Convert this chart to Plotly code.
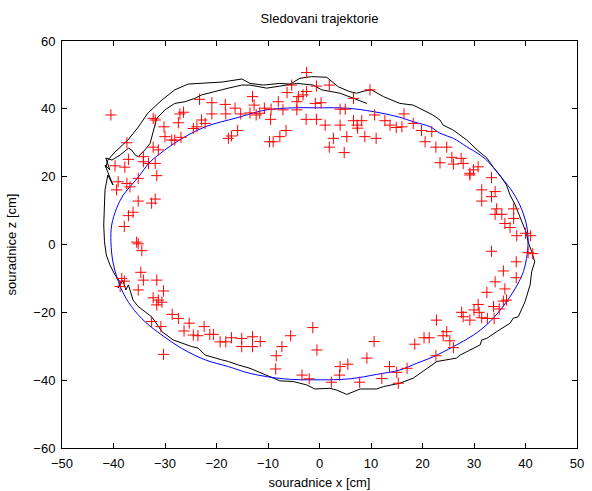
import plotly.graph_objects as go

# Red crosses: measured points (x, z) [cm]
meas_x = [-40.5,-23.3,-20.9,-18.3,-16.4,-18.2,-15.3,-13.5,-26.4,-27.1,-20.9,-32.3,-31.9,-27.4,-22.9,-22.2,-23.8,-24.5,-30.2,-30,-28.7,-28.1,-26.9,-17.1,-15.9,-17.7,-37.4,-32.3,-31.3,-37.1,-34.2,-34.2,-33.2,-31.9,-37.8,-39.7,
          -2.5,-5.4,-6.3,-0.6,1.9,-2.5,9.8,-4.1,-3.2,-13,-12.7,-8,-4.4,-0.8,0.3,6.6,-10.7,-9.4,-7.1,-4.4,4,5,-11.6,-12.3,-9.5,-2.6,-0.6,6.6,8.2,10.7,12.7,7.3,1.1,4,13.7,14.9,7.4,-6.5,-7.7,2.7,5.3,8.8,11,-9.7,-9,1.9,4.8,
          16.4,16,18.2,19.8,21.8,20.5,22.6,24.7,25.7,27.5,23.4,26,27.9,30.8,29.9,29.2,
          -39.1,-37.4,-36.8,-39.4,-35.2,-31.6,-35.2,-31.9,-32.6,-36.2,-37.1,-37.9,-35.5,-35.2,-34.5,-34.7,-34.2,-31.6,-38.4,-37.9,
          29.2,33.4,31.5,34.1,33.4,31.5,34.4,34.1,35.4,37.7,37.7,36,37,38.3,40,41,41.4,40.5,33.4,38.2,35.7,38.2,34.1,
          -38.7,-35.2,-30.3,-32.3,-31.3,-30.6,-31.6,-28.6,-27.4,-25.3,-32.6,-30.8,-26.3,-22.4,-24.5,-23.6,-21.3,-20.6,-19.3,-18.2,-17.1,-15.1,-15.1,-30.3,
          -13,-13,-11.5,-5.6,-1.3,-0.5,-7.3,-8.4,-8.5,-3.4,-2,2.3,4,5.5,3.9,7.8,9.2,10.6,13.6,12.1,15,15.3,
          32.5,36,36.3,35.7,30.8,33.8,34.9,30,31,27.6,27.9,29.2,31.5,32.6,33.9,22.7,24.7,24,25.3,26,20.3,21.3,18.5,22.6,17]
meas_z = [38.2,42.8,41.8,41.3,40.2,38.5,38.5,38.8,39,38.5,38.5,37.2,36.7,35.9,36.7,35.7,34.7,34.2,34.7,31.8,30.8,30.8,31.6,32,33.6,31.3,30,28.7,27.9,25.1,25.9,24.4,23.9,23.9,22.8,23.2,
          50.7,47,44.8,46.7,47,45.1,45.6,43.6,44.1,43.6,41.1,42.1,42.1,41.6,41.8,43.1,40.2,39.9,39.7,39.7,39.9,39.9,38.7,38.2,36.9,36.9,36.9,36.5,36.5,38.2,36.5,35.2,35.2,35.2,35.2,34.5,34.3,33.6,31.8,31.3,31.8,31.8,31.3,30.3,30.3,28.7,27.1,
          38.5,34.7,35.7,33.6,33.3,30.3,28.7,28.7,25.7,25.4,24.1,23.7,23.9,22.9,22,21,
          18.5,18,17,16.1,19.5,20.3,12.8,13.4,12.2,9.5,8.5,5.3,0.7,0.2,-1.8,-8.2,-10.5,-10.5,-10,-10.8,
          20.5,19.7,16.1,15.6,14.1,12.8,10.5,8.9,8.9,10.5,7.7,6.2,5,2.6,3.3,2.6,-2.7,-2.4,-2,-5.1,-7.8,-9.8,-11,
          -12.4,-13.4,-13.7,-15.7,-16.4,-17,-17.8,-20.6,-21.8,-23.2,-22.7,-24.2,-25.5,-24.2,-26.7,-26.9,-26.5,-26.5,-28.7,-28.7,-27.5,-27.7,-30.1,-32.4,
          -27.2,-30.1,-28.6,-26.9,-24.5,-31.1,-30.1,-32.8,-36.7,-38.5,-39.6,-40.6,-36,-35.3,-38.5,-40.6,-33.5,-28.6,-36,-39.5,-37.7,-40.9,
          -14.1,-13.1,-16.4,-16.7,-17.7,-18.3,-19,-19.3,-20,-20,-21.3,-22.3,-21.6,-21.8,-21.8,-22.3,-25.7,-26.9,-28.4,-30.4,-27.5,-27.5,-29.4,-32.8,-36.5]

# Blue curve: reference trajectory
ref_x = [-34.85,-33.2,-31.3,-28.7,-25.5,-22.2,-19.0,-16.4,-13.5,-10.25,-5.1,-0.5,5.3,10.4,15.6,18.2,21.5,23.4,26.0,28.6,31.2,33.1,34.9,37.0,38.9,40.2,40.5,40.2,39.6,38.4,36.3,33.1,29.9,26.0,22.1,18.9,15.6,11.1,5.9,-0.5,-7.0,-13.5,-17.7,-22.2,-26.8,-30.6,-33.9,-36.5,-38.4,-40.0,-40.5,-40.35,-39.4,-38.1,-36.5,-34.85]
ref_z = [20.5,23.9,26.4,29.3,32.3,34.7,36.2,37.2,38.5,39.7,40.3,40.3,40.2,39.2,37.5,36.2,34.7,32.8,31.3,28.8,26.4,23.9,20.5,16.6,11.65,5.75,0.8,-4.1,-8.0,-11.9,-16.9,-22.75,-26.7,-30.1,-33.1,-35.0,-37.0,-38.3,-39.6,-39.9,-39.6,-38.0,-36.0,-34.0,-30.6,-26.7,-22.75,-18.3,-13.4,-6.0,0.8,5.75,10.7,14.6,17.55,20.5]

# Black curve: tracked trajectory
trk_x = [9.2,7.5,5.9,4.0,2.4,0.4,-1.2,-4.4,-7.7,-10.25,-13.5,-15.1,-17.7,-20.9,-22.9,-24.2,-26.1,-28.1,-30,-31.6,-32.3,-32.9,-33.9,-35.2,-35.8,-36.5,-37.1,
         -38.7,-40.3,-41.5,-40.7,-41.65,-40.1,-41.1,-41.65,-41.85,-41.9,-41.75,-41.4,-40.7,-39.7,-38.7,-39.1,-38.2,-37.6,-37.1,
         -36.2,-35.2,-33.9,-32.6,-31.9,-30.6,-28.4,-26.8,-24.8,-23.5,-22.2,-19.0,-17.7,-15.8,-13.5,
         -9.6,-7.7,-5.1,-2.5,-0.9,2.0,3.3,5.3,7.9,11.1,12.4,15.6,
         18.2,20.8,22.8,26.6,27.3,28.6,31.2,31.5,32.5,34.4,37,37.6,38.6,39.9,40.9,
         41.2,41.8,41.2,40.5,40.2,39.6,38.0,37.0,36.3,35.0,
         33.7,32.5,30.6,28.6,25.9,24.0,23.4,22.0,20.1,18.2,15.6,
         12.4,10.1,8.8,7.2,5.9,3.65,1.4,-1.5,-3.8,-5.7,-7.7,-10.9,-13.5,
         -15.05,-18.9,-22.2,-25.5,-28.1,-30.6,-33.3,-35.2,-37.2,-39.7,-41.1,-41.5]
trk_z = [41.6,42.6,43.6,44.6,45.05,45.6,47.0,47.5,46.7,46.1,47.0,47.0,46.1,44.8,44.1,43.1,42.1,41.6,39.7,37.2,32.8,29.8,27.9,25.9,26.4,27.9,28.4,
         26.4,24.9,25.5,22.0,23.4,17.55,20.5,16.1,10.7,5.75,0.8,-3.1,-6.0,-9.0,-11.05,-12.8,-10.5,-13.4,-11.9,
         -16.4,-18.3,-19.8,-21.3,-22.75,-25.7,-28.15,-29.1,-30.1,-30.6,-32.6,-34.0,-34.5,-35.5,-36.5,
         -39.0,-40.2,-40.4,-41.4,-42.6,-42.4,-42.9,-44.2,-42.6,-42.6,-41.9,-40.9,
         -39.4,-36.5,-34.5,-33.5,-32.6,-31.6,-29.6,-28.15,-27.65,-25.7,-23.2,-21.75,-21.3,-16.9,-11.9,
         -8.0,-5.1,-2.1,0.8,3.3,5.75,11.65,14.6,17.55,20.5,
         22.85,25.5,27.9,30.8,33.8,35.2,36.7,38.2,39.7,41.1,41.6,
         43.6,45.6,45.3,44.6,45.05,46.5,49.3,49.5,49.0,47.3,47.5,47.0,47.5,
         48.8,47.9,47.6,47.3,45.6,42.6,38.8,34.6,30.8,27.3,24.9,22.6]

title_text = "Sledovani trajektorie"
x_label = "souradnice x [cm]"
z_label = "souradnice z [cm]"

fig = go.Figure()
fig.add_trace(go.Scatter(x=trk_x, y=trk_z, mode="lines",
                         line=dict(color="black", width=1), hoverinfo="skip"))
fig.add_trace(go.Scatter(x=ref_x, y=ref_z, mode="lines",
                         line=dict(color="#0000ff", width=1, shape="spline", smoothing=1.0),
                         hoverinfo="skip"))
fig.add_trace(go.Scatter(x=meas_x, y=meas_z, mode="markers",
                         marker=dict(symbol="cross-thin", size=8,
                                     line=dict(color="#ff0000", width=1), color="#ff0000"),
                         hoverinfo="skip"))

axis_common = dict(showline=True, linecolor="black", linewidth=1, mirror="ticks",
                   ticks="inside", ticklen=5, tickcolor="black", showgrid=False,
                   zeroline=False, tickfont=dict(size=13, color="black"),
                   ticklabelstandoff=3, automargin=False)

fig.update_layout(
    width=592, height=491,
    margin=dict(l=62, r=15, t=41, b=43),
    paper_bgcolor="white", plot_bgcolor="white",
    font=dict(family="Liberation Sans, Arial, sans-serif", size=13, color="black"),
    showlegend=False,
    hovermode=False,
    title=dict(text=title_text, x=0.5, xref="paper", xanchor="center",
               y=1 - 18/491, yanchor="middle", font=dict(size=13)),
    xaxis=dict(range=[-50, 50], dtick=10, tick0=-50,
               title=dict(text=x_label, standoff=8, font=dict(size=13)), **axis_common),
    yaxis=dict(range=[-60, 60], dtick=20, tick0=-60,
               title=dict(text=z_label, standoff=13, font=dict(size=13)), **axis_common),
)

fig.write_html("out.html", config={"displayModeBar": False, "staticPlot": True},
               post_script="document.body.style.margin='0';document.body.style.overflow='hidden';")
